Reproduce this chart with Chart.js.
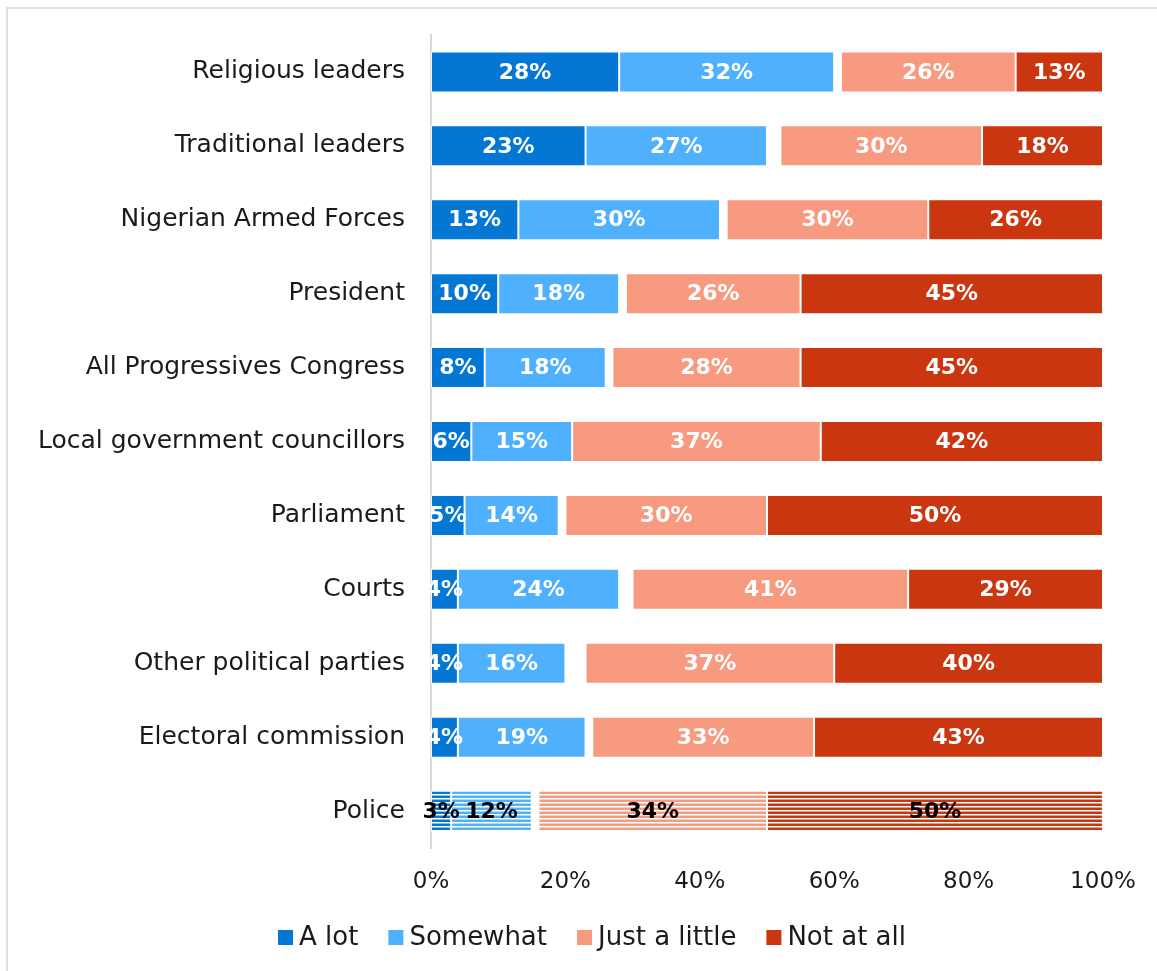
<!DOCTYPE html>
<html>
<head>
<meta charset="utf-8">
<script src="https://cdn.jsdelivr.net/npm/chart.js@4"></script>
<style>
  html, body { margin: 0; padding: 0; background: #fff; overflow: hidden; }
  #frame {
    position: absolute; left: 6px; top: 7px;
    width: 1200px; height: 1000px;
    border: 2px solid #e0e0e0; box-sizing: border-box;
  }
  #wrap { position: absolute; left: 0; top: 0; width: 1157px; height: 971px; }
</style>
</head>
<body>
<div id="frame"></div>
<div id="wrap"><canvas id="chart"></canvas></div>
<script>
  // ── Data ───────────────────────────────────
  const institutions = [
    "Religious leaders", "Traditional leaders", "Nigerian Armed Forces", "President",
    "All Progressives Congress", "Local government councillors", "Parliament", "Courts",
    "Other political parties", "Electoral commission", "Police"
  ];
  const aLot       = [28, 23, 13, 10,  8,  6,  5,  4,  4,  4,  3];
  const somewhat   = [32, 27, 30, 18, 18, 15, 14, 24, 16, 19, 12];
  const noAnswer   = [ 1,  2,  1,  1,  1,  0,  1,  2,  3,  1,  1];
  const justLittle = [26, 30, 30, 26, 28, 37, 30, 41, 37, 33, 34];
  const notAtAll   = [13, 18, 26, 45, 45, 42, 50, 29, 40, 43, 50];
  const xTicks     = [0, 20, 40, 60, 80, 100];

  const HATCHED_ROW = institutions.indexOf("Police");
  const FONT = '"DejaVu Sans", sans-serif';
  const TEXT = "#1a1a1a";

  // striped fill used for the highlighted row
  function stripes(color) {
    const tile = document.createElement("canvas");
    tile.width = 8; tile.height = 4;
    const g = tile.getContext("2d");
    g.fillStyle = "#fff"; g.fillRect(0, 0, 8, 4);
    g.fillStyle = color; g.fillRect(0, 0, 8, 2);
    g.globalAlpha = 0.5; g.fillRect(0, 3, 8, 1);
    return g.createPattern(tile, "repeat");
  }

  function series(label, data, color) {
    const pat = stripes(color);
    return {
      label, data,
      backgroundColor: (c) => c.dataIndex === HATCHED_ROW ? pat : color,
      borderColor: "rgba(255,255,255,0.8)",
      borderWidth: 1,
      borderSkipped: false,
      legendColor: color
    };
  }

  // ── Value labels inside segments ───────────
  const barLabels = {
    id: "barLabels",
    afterDatasetsDraw(chart) {
      const ctx = chart.ctx;
      ctx.save();
      ctx.font = "bold 22px " + FONT;
      ctx.textAlign = "center";
      ctx.textBaseline = "middle";
      chart.data.datasets.forEach((ds, i) => {
        if (ds.isGap) return;
        chart.getDatasetMeta(i).data.forEach((bar, j) => {
          const p = bar.getCenterPoint();
          ctx.fillStyle = j === HATCHED_ROW ? "#000" : "#fff";
          ctx.fillText(ds.data[j] + "%", p.x, p.y + 1);
        });
      });
      ctx.restore();
    }
  };

  // ── Legend row under the axis ──────────────
  const legendRow = {
    id: "legendRow",
    afterDraw(chart) {
      const ctx = chart.ctx;
      const box = 15, gap = 6, spacing = 30, cy = 937.5;
      const items = chart.data.datasets.filter((ds) => !ds.isGap);
      ctx.save();
      ctx.font = "26px " + FONT;
      ctx.textBaseline = "middle";
      const widths = items.map((ds) => ctx.measureText(ds.label).width);
      const total = widths.reduce((a, w) => a + box + gap + w, 0) + spacing * (items.length - 1);
      let x = 592 - total / 2;
      items.forEach((ds, i) => {
        ctx.fillStyle = ds.legendColor;
        ctx.fillRect(x, cy - box / 2, box, box);
        ctx.fillStyle = TEXT;
        ctx.fillText(ds.label, x + box + gap, cy + 1);
        x += box + gap + widths[i] + spacing;
      });
      ctx.restore();
    }
  };

  new Chart(document.getElementById("chart"), {
    type: "bar",
    data: {
      labels: institutions,
      datasets: [
        series("A lot", aLot, "#0477D5"),
        series("Somewhat", somewhat, "#4FB1FE"),
        { label: "", data: noAnswer, backgroundColor: "rgba(0,0,0,0)", isGap: true },
        series("Just a little", justLittle, "#F89A80"),
        series("Not at all", notAtAll, "#C9360F")
      ]
    },
    options: {
      indexAxis: "y",
      responsive: true,
      maintainAspectRatio: false,
      animation: false,
      datasets: { bar: { barPercentage: 0.555, categoryPercentage: 1 } },
      layout: { padding: { top: 35, bottom: 0, left: 0, right: 54 } },
      plugins: {
        tooltip: { enabled: false },
        legend: { display: false }
      },
      scales: {
        x: {
          stacked: true,
          min: 0, max: 100,
          afterBuildTicks: (s) => { s.ticks = xTicks.map((v) => ({ value: v })); },
          ticks: { color: TEXT, font: { family: FONT, size: 23 }, padding: 20, callback: (v) => v + "%" },
          grid: { display: false, drawTicks: false },
          border: { display: false },
          afterFit: (s) => { s.height = 123; }
        },
        y: {
          stacked: true,
          ticks: { color: TEXT, font: { family: FONT, size: 25 }, padding: 26 },
          grid: { display: false, drawTicks: false },
          border: { display: true, color: "#d9d9d9", width: 2 },
          afterFit: (s) => { s.width = 431; s.paddingTop = 0; s.paddingBottom = 0; }
        }
      }
    },
    plugins: [barLabels, legendRow]
  });
</script>
</body>
</html>
